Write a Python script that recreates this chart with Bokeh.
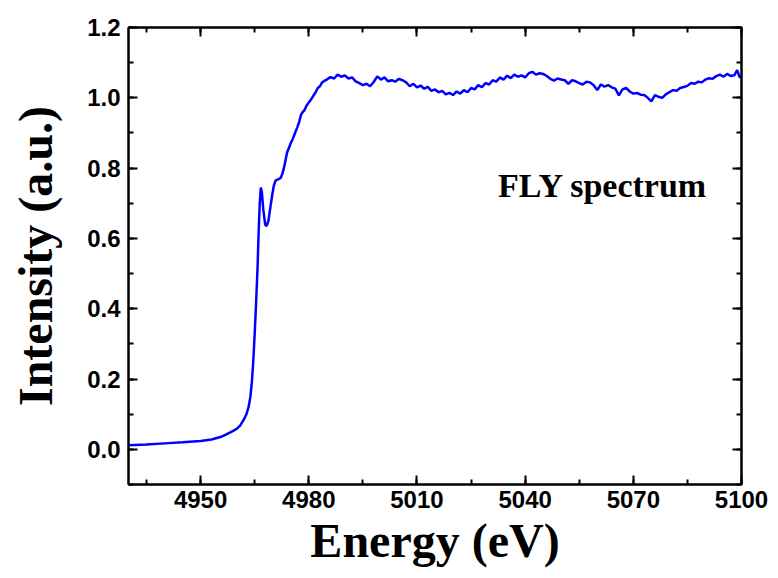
from bokeh.plotting import figure
from bokeh.models import LinearAxis, SingleIntervalTicker, PrintfTickFormatter, Range1d, Label
from bokeh.embed import file_html
from bokeh.resources import INLINE

energy = [4930, 4935, 4940, 4945, 4950, 4953, 4955.5, 4957, 4958.5, 4960, 4961, 4962, 4962.7, 4963.3,
          4963.8, 4964.2, 4964.6, 4965.0, 4965.4, 4965.8, 4966.1, 4966.4, 4966.7, 4967.0, 4967.4, 4967.9,
          4968.3, 4968.8, 4969.3, 4969.8, 4970.3, 4970.8, 4971.5, 4972.2, 4972.7, 4973.1, 4973.6, 4974.0,
          4974.6, 4975.0, 4975.4, 4976.0, 4976.8, 4977.3, 4977.8, 4978.2, 4978.8, 4979.4, 4980.0, 4980.6,
          4981.2, 4981.9, 4982.5, 4983.1, 4983.7, 4984.3, 4985, 4986, 4987, 4988, 4989, 4990, 4991, 4992,
          4993, 4994, 4995, 4996, 4997, 4998, 4999, 5000, 5001, 5002, 5003, 5004, 5005, 5006, 5007, 5008,
          5009, 5010, 5011, 5012, 5013, 5014, 5015, 5016, 5017, 5018, 5019, 5020, 5021, 5022, 5023, 5024,
          5025, 5026, 5027, 5028, 5029, 5030, 5031, 5032, 5033, 5034, 5035, 5036, 5037, 5038, 5039, 5040,
          5041, 5042, 5043, 5044, 5045, 5046, 5047, 5048, 5049, 5050, 5051, 5052, 5053, 5054, 5055, 5056,
          5057, 5058, 5059, 5060, 5061, 5062, 5063, 5064, 5065, 5066, 5067, 5068, 5069, 5070, 5071, 5072,
          5073, 5074, 5075, 5076, 5077, 5078, 5079, 5080, 5081, 5082, 5083, 5084, 5085, 5086, 5087, 5088,
          5089, 5090, 5091, 5092, 5093, 5094, 5095, 5096, 5097, 5098, 5098.8, 5099.5, 5100]

intensity = [0.012, 0.014, 0.017, 0.020, 0.024, 0.028, 0.035, 0.042, 0.050, 0.058, 0.068, 0.085, 0.100, 0.120,
             0.150, 0.190, 0.250, 0.330, 0.420, 0.520, 0.620, 0.700, 0.745, 0.730, 0.680, 0.640,
             0.635, 0.650, 0.685, 0.720, 0.750, 0.765, 0.768, 0.772, 0.785, 0.800, 0.825, 0.845,
             0.860, 0.872, 0.879, 0.895, 0.916, 0.930, 0.950, 0.958, 0.965, 0.978, 0.987, 0.995,
             1.005, 1.016, 1.028, 1.033, 1.044, 1.048, 1.052, 1.059, 1.055, 1.066, 1.060, 1.064, 1.055, 1.058,
             1.047, 1.042, 1.036, 1.040, 1.033, 1.045, 1.061, 1.052, 1.058, 1.047, 1.050, 1.046, 1.054, 1.050, 1.044, 1.033,
             1.040, 1.030, 1.035, 1.026, 1.031, 1.020, 1.024, 1.016, 1.020, 1.010, 1.014, 1.008, 1.018, 1.012, 1.022, 1.016,
             1.028, 1.024, 1.036, 1.030, 1.042, 1.038, 1.050, 1.046, 1.058, 1.052, 1.063, 1.056, 1.066, 1.060, 1.064, 1.058,
             1.070, 1.074, 1.066, 1.070, 1.068, 1.062, 1.054, 1.049, 1.055, 1.052, 1.050, 1.040, 1.050, 1.047, 1.042, 1.038,
             1.046, 1.044, 1.036, 1.022, 1.038, 1.032, 1.036, 1.030, 1.026, 1.007, 1.024, 1.028, 1.018, 1.012, 1.014, 1.009,
             1.008, 1.000, 0.990, 1.008, 1.003, 1.000, 1.010, 1.016, 1.022, 1.020, 1.028, 1.031, 1.034, 1.042, 1.040, 1.046,
             1.044, 1.052, 1.056, 1.054, 1.062, 1.066, 1.060, 1.068, 1.062, 1.064, 1.079, 1.058, 1.060]

x_range = (4930, 5100)
y_range = (-0.1, 1.2001)
x_tick_interval = 30
y_tick_interval = 0.2
annotation = "FLY spectrum"
annotation_pos = (5032.5, 0.75)

TICK_FONT = "'Liberation Sans', Arial, sans-serif"
LABEL_FONT = "'Liberation Serif', 'Times New Roman', serif"

p = figure(width=770, height=570, output_backend="svg", toolbar_location=None,
           x_range=Range1d(*x_range), y_range=Range1d(*y_range),
           min_border_left=128, min_border_right=29, min_border_top=27, min_border_bottom=86,
           x_axis_label="Energy (eV)", y_axis_label="Intensity (a.u.)")
p.grid.visible = False
p.outline_line_color = "black"
p.outline_line_width = 2
p.background_fill_color = "white"
p.border_fill_color = "white"

p.line(energy, intensity, line_color="#0000ff", line_width=2.5)

xt = SingleIntervalTicker(interval=x_tick_interval, num_minor_ticks=2)
yt = SingleIntervalTicker(interval=y_tick_interval, num_minor_ticks=2)


def style(ax, labels=True):
    ax.axis_line_width = 2
    ax.axis_line_color = "black"
    ax.major_tick_in = 9
    ax.major_tick_out = 0
    ax.minor_tick_in = 5
    ax.minor_tick_out = 0
    ax.major_tick_line_width = 2
    ax.minor_tick_line_width = 2
    ax.major_tick_line_color = "black"
    ax.minor_tick_line_color = "black"
    if labels:
        ax.major_label_text_font = TICK_FONT
        ax.major_label_text_font_style = "bold"
        ax.major_label_text_font_size = "24px"
        ax.major_label_text_color = "black"
        ax.axis_label_text_font = LABEL_FONT
        ax.axis_label_text_font_style = "bold"
        ax.axis_label_text_font_size = "48px"
        ax.axis_label_text_color = "black"
    else:
        ax.major_label_text_font_size = "0px"
        ax.major_label_standoff = 0


p.xaxis[0].ticker = xt
p.yaxis[0].ticker = yt
p.yaxis[0].formatter = PrintfTickFormatter(format="%.1f")
style(p.xaxis[0])
style(p.yaxis[0])
p.xaxis[0].major_label_standoff = 6
p.yaxis[0].major_label_standoff = 8
p.xaxis[0].axis_label_standoff = 3
p.yaxis[0].axis_label_standoff = 22

top = LinearAxis(ticker=SingleIntervalTicker(interval=x_tick_interval, num_minor_ticks=2))
right = LinearAxis(ticker=SingleIntervalTicker(interval=y_tick_interval, num_minor_ticks=2))
style(top, labels=False)
style(right, labels=False)
p.add_layout(top, "above")
p.add_layout(right, "right")

p.add_layout(Label(x=annotation_pos[0], y=annotation_pos[1], text=annotation,
                   text_font=LABEL_FONT, text_font_style="bold", text_font_size="34px",
                   text_color="black", text_baseline="alphabetic"))

open("out.html", "w").write(file_html(p, INLINE))
